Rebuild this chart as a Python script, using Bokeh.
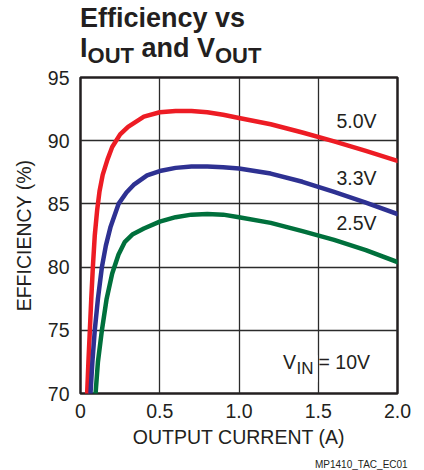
from bokeh.plotting import figure
from bokeh.models import Label, Range1d, FixedTicker, Div
from bokeh.layouts import column
from bokeh.embed import file_html
from bokeh.resources import INLINE

# ---- data ----
current_5v0 = [0.042, 0.05, 0.059, 0.068, 0.078, 0.09, 0.105, 0.12, 0.14, 0.17, 0.2, 0.25, 0.3,
               0.4, 0.5, 0.6, 0.7, 0.8, 0.9, 1.0, 1.2, 1.4, 1.6, 1.8, 2.0]
eff_5v0 = [70, 72.5, 75, 77.5, 80, 82.5, 84.5, 86, 87.3, 88.5, 89.5, 90.5, 91.1,
           91.9, 92.25, 92.35, 92.35, 92.25, 92.05, 91.8, 91.3, 90.65, 89.95, 89.2, 88.4]

current_3v3 = [0.063, 0.075, 0.09, 0.11, 0.135, 0.16, 0.19, 0.24, 0.29, 0.335, 0.42, 0.5, 0.6,
               0.7, 0.8, 0.9, 1.0, 1.2, 1.4, 1.6, 1.8, 2.0]
eff_3v3 = [70, 72.5, 75, 77.5, 80, 81.7, 83.2, 85.0, 85.9, 86.5, 87.25, 87.6, 87.85,
           87.95, 87.95, 87.9, 87.8, 87.4, 86.75, 85.95, 85.1, 84.2]

current_2v5 = [0.095, 0.11, 0.135, 0.165, 0.2, 0.24, 0.28, 0.33, 0.4, 0.5, 0.6, 0.7, 0.8,
               0.9, 1.0, 1.2, 1.4, 1.6, 1.8, 2.0]
eff_2v5 = [70, 72.5, 75, 77.5, 79.5, 81, 82, 82.6, 83.05, 83.6, 83.95, 84.15, 84.2,
           84.15, 83.95, 83.5, 82.85, 82.15, 81.35, 80.4]

series_names = ["5.0V", "3.3V", "2.5V"]
series_colors = ["#ED1C24", "#2E3192", "#00703C"]

x_ticks = [0, 0.5, 1.0, 1.5, 2.0]
x_tick_labels = ["0", "0.5", "1.0", "1.5", "2.0"]
y_ticks = [70, 75, 80, 85, 90, 95]
X_MIN, X_MAX = 0, 2.0
Y_MIN, Y_MAX = 70, 95

FONT = "Liberation Sans"
INK = "#231f20"

# ---- title (HTML so that the subscripts stay real text) ----
sub = "font-size:22px;vertical-align:-5.5px;line-height:0"
title_html = (
    f'<div style="padding:4px 0 0 80px;margin:0;font-family:\'{FONT}\';font-size:27px;'
    f'font-weight:bold;line-height:29.5px;color:{INK};white-space:nowrap">'
    f'Efficiency vs<br>I<span style="{sub}">OUT</span> and V<span style="{sub}">OUT</span></div>'
)
title_div = Div(text=title_html, width=424, height=64, margin=(0, 0, 0, 0))

p = figure(width=424, height=392, x_range=Range1d(X_MIN, X_MAX), y_range=Range1d(Y_MIN, Y_MAX),
           output_backend="svg", toolbar_location=None, margin=(0, 0, 0, 0),
           min_border_left=80, min_border_right=27, min_border_top=13, min_border_bottom=63)
p.background_fill_color = "white"
p.border_fill_color = "white"
p.outline_line_color = INK
p.outline_line_width = 2.5

for ax in (p.xaxis, p.yaxis):
    ax.axis_line_color = None
    ax.major_tick_line_color = None
    ax.minor_tick_line_color = None
    ax.major_tick_out = 0
    ax.major_tick_in = 0
    ax.minor_tick_out = 0
    ax.major_label_text_font = FONT
    ax.major_label_text_font_size = "19.5px"
    ax.major_label_text_color = INK
    ax.axis_label_text_font = FONT
    ax.axis_label_text_font_size = "19.5px"
    ax.axis_label_text_font_style = "normal"
    ax.axis_label_text_color = INK

p.xaxis.ticker = FixedTicker(ticks=x_ticks)
p.xaxis.major_label_overrides = {t: l for t, l in zip(x_ticks, x_tick_labels)}
p.xaxis.major_label_standoff = 10
p.xaxis.axis_label = "OUTPUT CURRENT (A)"
p.xaxis.axis_label_standoff = 5
p.yaxis.ticker = FixedTicker(ticks=y_ticks)
p.yaxis.major_label_standoff = 11
p.yaxis.axis_label = "EFFICIENCY (%)"
p.yaxis.axis_label_standoff = 10

p.xgrid.ticker = FixedTicker(ticks=x_ticks)
p.ygrid.ticker = FixedTicker(ticks=y_ticks)
p.grid.grid_line_color = "#2b2b2b"
p.grid.grid_line_width = 1.3
p.grid.grid_line_alpha = 1.0

for xs, ys, c in zip([current_5v0, current_3v3, current_2v5], [eff_5v0, eff_3v3, eff_2v5], series_colors):
    p.line(xs, ys, line_color=c, line_width=4.5, line_join="round", line_cap="round")

# page-pixel -> data helpers (frame: x 80..397, y 77..393 on the page)
def dx(px):
    return X_MIN + (px - 80) / (397 - 80) * (X_MAX - X_MIN)

def dy(py):
    return Y_MIN + (393 - py) / (393 - 77) * (Y_MAX - Y_MIN)

def lab(px, py, text, size="19.5px", **kw):
    l = Label(x=dx(px), y=dy(py), text=text, text_font=FONT, text_font_size=size,
              text_color=INK, text_baseline="middle", text_align="left", **kw)
    p.add_layout(l)
    return l

# series labels (vertical centres of the text)
lab(336, 120, series_names[0])
lab(336, 177, series_names[1])
lab(336, 222, series_names[2])

# V_IN note
lab(292, 368.3, "IN", size="17px", background_fill_color="white", padding=4)
lab(282.5, 361.7, "V")
lab(318, 361.7, "= 10V")

# figure code at the bottom right
foot_div = Div(
    text=f'<div style="padding-left:315px;margin:0;font-family:\'{FONT}\';font-size:10px;'
         f'line-height:14px;color:{INK};white-space:nowrap">MP1410_TAC_EC01</div>',
    width=424, height=14, margin=(0, 0, 0, 0))

layout = column(title_div, p, foot_div, spacing=0, margin=(0, 0, 0, 0))

open("out.html", "w").write(file_html(layout, INLINE))
